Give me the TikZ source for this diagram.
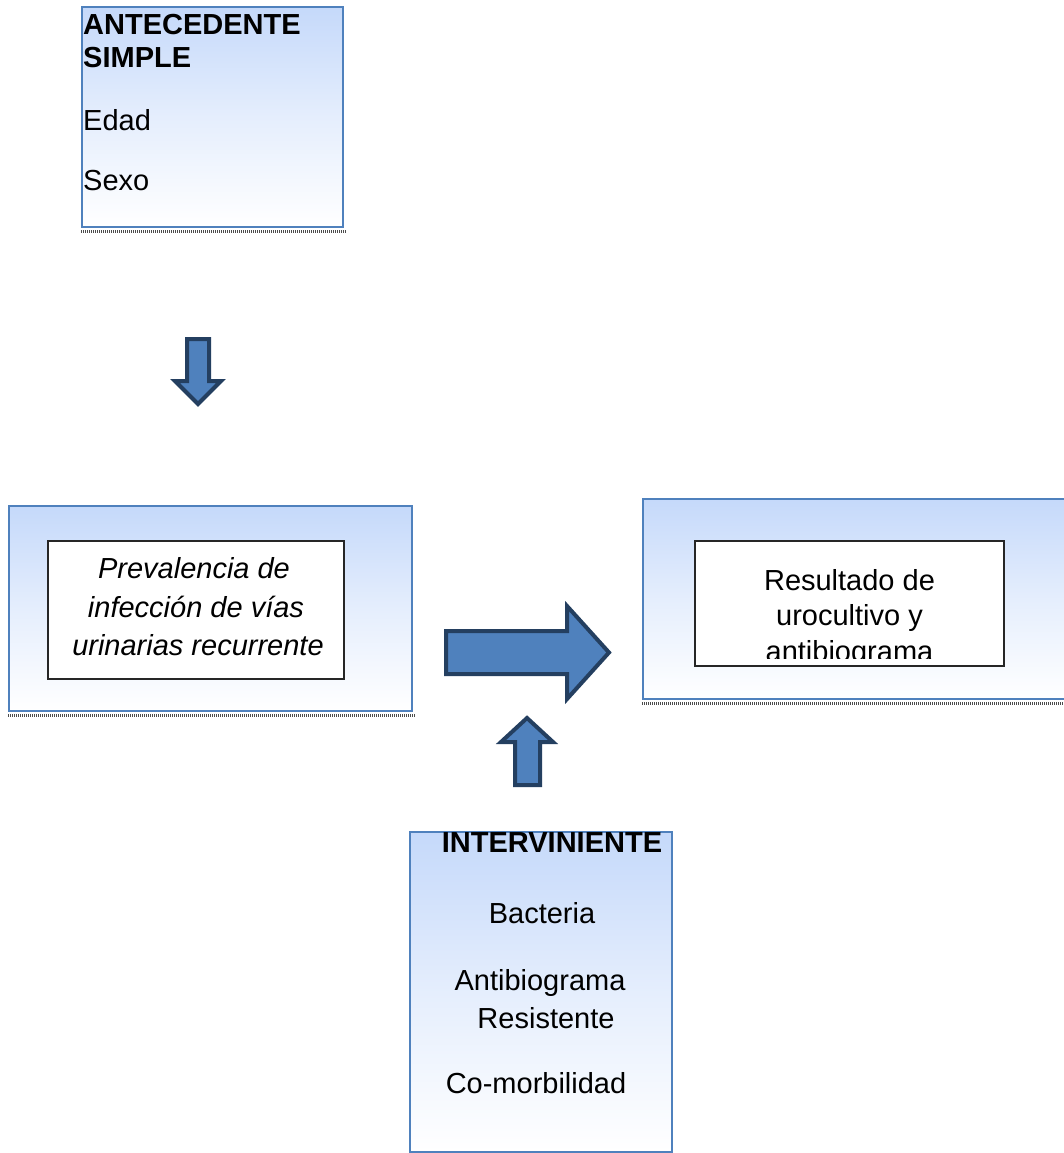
\documentclass[tikz,border=0pt]{standalone}
\usepackage{fontspec}
\setmainfont{Liberation Sans}
\definecolor{boxborder}{RGB}{79,129,189}
\definecolor{boxtop}{RGB}{197,217,250}
\definecolor{arrowfill}{RGB}{79,129,189}
\definecolor{arrowline}{RGB}{36,63,96}
\tikzset{
  outerbox/.style={draw=boxborder, line width=2pt, top color=boxtop, bottom color=white, middle color=boxtop!45!white, inner sep=0pt},
  innerbox/.style={draw=black!85, line width=1.3pt, fill=white, inner sep=0pt},
  shadowline/.style={draw=black!70, line width=3pt, dash pattern=on 1pt off 1pt},
  blockarrow/.style={draw=arrowline, fill=arrowfill, line width=4pt, line join=miter},
  txt/.style={inner sep=0pt, font=\fontsize{29}{35}\selectfont},
  btxt/.style={inner sep=0pt, font=\fontsize{29}{35}\selectfont\bfseries},
  itxt/.style={inner sep=0pt, font=\fontsize{29}{35}\selectfont\itshape}
}
\begin{document}
\begin{tikzpicture}[x=1pt,y=-1pt]
\clip (0,0) rectangle (1064,1153);
\fill[white] (0,0) rectangle (1064,1153);

% Antecedente box
\node[outerbox, minimum width=261pt, minimum height=220pt] (ante) at (212.5,117) {};
\draw[shadowline] ([yshift=-3pt]ante.south west) -- ([xshift=2pt,yshift=-3pt]ante.south east);
\node[btxt, anchor=base west] (a1) at (83,35) {ANTECEDENTE};
\node[btxt, anchor=base west] (a2) at (83,68) {SIMPLE};
\node[txt, anchor=base west] (a3) at (83,131) {Edad};
\node[txt, anchor=base west] (a4) at (83,190) {Sexo};

% Down arrow
\draw[blockarrow] (187,339) -- (209,339) -- (209,381) -- (221,381) -- (198,404) -- (175,381) -- (187,381) -- cycle;

% Prevalencia box
\node[outerbox, minimum width=403pt, minimum height=205pt] (prev) at (210.5,608.5) {};
\draw[shadowline] ([yshift=-3pt]prev.south west) -- ([xshift=2pt,yshift=-3pt]prev.south east);
\node[innerbox, minimum width=296pt, minimum height=138pt] (previn) at (196,610) {};
\node[itxt, anchor=base] (p1) at (194,578) {Prevalencia de};
\node[itxt, anchor=base] (p2) at (196,617) {infección de vías};
\node[itxt, anchor=base] (p3) at (198,655) {urinarias recurrente};

% Right arrow
\draw[blockarrow] (446,631) -- (567,631) -- (567,606) -- (609,652.5) -- (567,699) -- (567,674) -- (446,674) -- cycle;

% Resultado box
\node[outerbox, minimum width=427pt, minimum height=200pt] (res) at (856.5,599) {};
\draw[shadowline] ([yshift=-3pt]res.south west) -- ([xshift=2pt,yshift=-3pt]res.south east);
\node[innerbox, minimum width=309pt, minimum height=125pt] (resin) at (849.5,603.5) {};
\begin{scope}
\clip (695,541) rectangle (1004,658);
\node[txt, anchor=base] (r1) at (849.5,590) {Resultado de};
\node[txt, anchor=base] (r2) at (849.5,625) {urocultivo y};
\node[txt, anchor=base] (r3) at (849.5,661) {antibiograma};
\end{scope}

% Up arrow
\draw[blockarrow] (527,718) -- (553,742) -- (540,742) -- (540,785) -- (515,785) -- (515,742) -- (501,742) -- cycle;

% Interviniente box
\node[outerbox, minimum width=262pt, minimum height=320pt] (inter) at (541,992) {};
\node[btxt, anchor=base] (i1) at (552,852) {INTERVINIENTE};
\node[txt, anchor=base] (i2) at (542,923) {Bacteria};
\node[txt, anchor=base] (i3) at (540,990) {Antibiograma};
\node[txt, anchor=base] (i4) at (546,1028) {Resistente};
\node[txt, anchor=base] (i5) at (536,1093) {Co-morbilidad};
\end{tikzpicture}
\end{document}
